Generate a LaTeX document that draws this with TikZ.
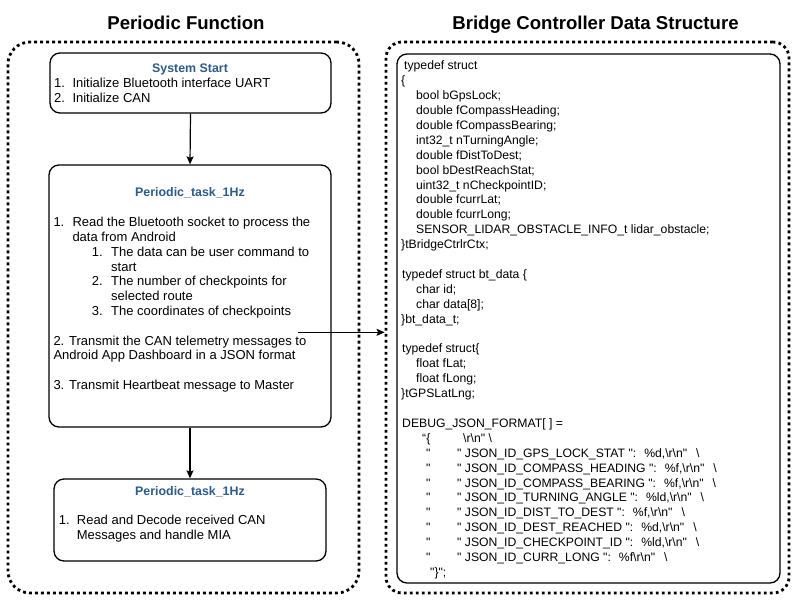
\documentclass[tikz,border=0pt]{standalone}
\usepackage{fontspec}
\setmainfont{Liberation Sans}
\newfontfamily\codefont{Liberation Sans}[Ligatures=TeXOff]
\usetikzlibrary{arrows.meta}
\definecolor{titleblue}{RGB}{44,92,140}
\newcommand\mycl[4]{\node[code] (#1) at (#2,{69.8+14.9*#3}) {#4};}
\newcommand\myjs[4]{%
  \node[code] (q#1) at (426,{69.8+14.9*#2}) {"};
  \node[code] (j#1) at (457,{69.8+14.9*#2}) {" JSON\_ID\_#3 ":\hspace{8pt}#4\textbackslash r\textbackslash n"\hspace{9pt}\textbackslash};}
\begin{document}
\begin{tikzpicture}[x=1pt,y=-1pt,
  dotbox/.style={draw, line width=2.8pt, dash pattern=on 2.8pt off 3.2pt},
  taskbox/.style={draw, line width=1.3pt, rounded corners=10pt},
  txt/.style={inner sep=0pt, anchor=base west, font=\fontsize{13}{15}\selectfont},
  hdr/.style={inner sep=0pt, anchor=base, font=\bfseries\fontsize{12.4}{15}\selectfont, text=titleblue},
  big/.style={inner sep=0pt, anchor=base, font=\bfseries\fontsize{18.6}{22}\selectfont},
  code/.style={inner sep=0pt, anchor=base west, font=\codefont\fontsize{12.2}{15}\selectfont},
  arr/.style={-{Stealth[length=8pt,width=7pt,inset=1.5pt]}, line width=1.2pt}
]
\useasboundingbox (0,0) rectangle (800,600);
\fill[white] (0,0) rectangle (800,600);

% titles
\node[big] (tl) at (186,29.3) {Periodic Function};
\node[big] (tr) at (595.5,29.3) {Bridge Controller Data Structure};

% outer dotted frames
\node[dotbox, rounded corners=22pt, minimum width=351pt, minimum height=551pt] (lout) at (183.5,317.5) {};
\node[dotbox, rounded corners=16pt, minimum width=403pt, minimum height=551pt] (rout) at (587.5,317.5) {};
\node[draw, line width=1.3pt, rounded corners=10pt, minimum width=383pt, minimum height=529pt] (rin) at (588.5,318.5) {};

% task boxes
\node[taskbox, minimum width=281pt, minimum height=60pt] (b1) at (190.5,83) {};
\node[taskbox, minimum width=282pt, minimum height=262pt] (b2) at (190,296) {};
\node[taskbox, minimum width=272pt, minimum height=82pt] (b3) at (190,520) {};

% connectors
\draw[arr] (b1.south) -- (b2.north);
\draw[arr] (b2.south) -- (b3.north);
\coordinate (tx) at (298,332.3);
\draw[arr] (tx) -- (tx -| rout.west);

% box 1 text
\node[hdr] (h1) at (190,72.3) {System Start};
\node[txt] (n11) at (54,87.3) {1.};
\node[txt] (l11) at (72.3,87.3) {Initialize Bluetooth interface UART};
\node[txt] (n12) at (54,102.3) {2.};
\node[txt] (l12) at (72.3,102.3) {Initialize CAN};

% box 2 text
\node[hdr] (h2) at (190,196.7) {Periodic\_task\_1Hz};
\node[txt] (n21) at (53.3,226.7) {1.};
\node[txt] (l21) at (72.3,226.7) {Read the Bluetooth socket to process the};
\node[txt] (l22) at (72.3,241.5) {data from Android};
\node[txt] (n23) at (91.7,256.3) {1.};
\node[txt] (l23) at (111,256.3) {The data can be user command to};
\node[txt] (l24) at (111,271.1) {start};
\node[txt] (n25) at (91.7,285.9) {2.};
\node[txt] (l25) at (111,285.9) {The number of checkpoints for};
\node[txt] (l26) at (111,300.7) {selected route};
\node[txt] (n27) at (91.7,315.5) {3.};
\node[txt] (l27) at (111,315.5) {The coordinates of checkpoints};
\node[txt] (l28) at (53.3,345.1) {2. Transmit the CAN telemetry messages to};
\node[txt] (l29) at (53.3,359.9) {Android App Dashboard in a JSON format};
\node[txt] (l2a) at (53.3,389.5) {3. Transmit Heartbeat message to Master};

% box 3 text
\node[hdr] (h3) at (190,495) {Periodic\_task\_1Hz};
\node[txt] (n31) at (58.7,524.3) {1.};
\node[txt] (l31) at (76.7,524.3) {Read and Decode received CAN};
\node[txt] (l32) at (76.7,539.3) {Messages and handle MIA};

% code text
\mycl{c0}{404}{0}{typedef struct}
\mycl{c1}{401}{1}{\{}
\mycl{c2}{416}{2}{bool bGpsLock;}
\mycl{c3}{416}{3}{double fCompassHeading;}
\mycl{c4}{416}{4}{double fCompassBearing;}
\mycl{c5}{416}{5}{int32\_t nTurningAngle;}
\mycl{c6}{416}{6}{double fDistToDest;}
\mycl{c7}{416}{7}{bool bDestReachStat;}
\mycl{c8}{416}{8}{uint32\_t nCheckpointID;}
\mycl{c9}{416}{9}{double fcurrLat;}
\mycl{c10}{416}{10}{double fcurrLong;}
\mycl{c11}{416}{11}{SENSOR\_LIDAR\_OBSTACLE\_INFO\_t lidar\_obstacle;}
\mycl{c12}{401}{12}{\}tBridgeCtrlrCtx;}
\mycl{c14}{402}{14}{typedef struct bt\_data \{}
\mycl{c15}{416}{15}{char id;}
\mycl{c16}{416}{16}{char data[8];}
\mycl{c17}{401}{17}{\}bt\_data\_t;}
\mycl{c19}{402}{19}{typedef struct\{}
\mycl{c20}{416}{20}{float fLat;}
\mycl{c21}{416}{21}{float fLong;}
\mycl{c22}{401}{22}{\}tGPSLatLng;}
\mycl{c24}{402}{24}{DEBUG\_JSON\_FORMAT[ ] =}
\mycl{c25a}{422}{25}{“\{}
\mycl{c25b}{463}{25}{\textbackslash r\textbackslash n" \textbackslash}
\myjs{26}{26}{GPS\_LOCK\_STAT}{\%d,}
\myjs{27}{27}{COMPASS\_HEADING}{\%f,}
\myjs{28}{28}{COMPASS\_BEARING}{\%f,}
\myjs{29}{29}{TURNING\_ANGLE}{\%ld,}
\myjs{30}{30}{DIST\_TO\_DEST}{\%f,}
\myjs{31}{31}{DEST\_REACHED}{\%d,}
\myjs{32}{32}{CHECKPOINT\_ID}{\%ld,}
\myjs{33}{33}{CURR\_LONG}{\%f}
\mycl{c34}{430}{34}{"\}";}
\end{tikzpicture}
\end{document}
